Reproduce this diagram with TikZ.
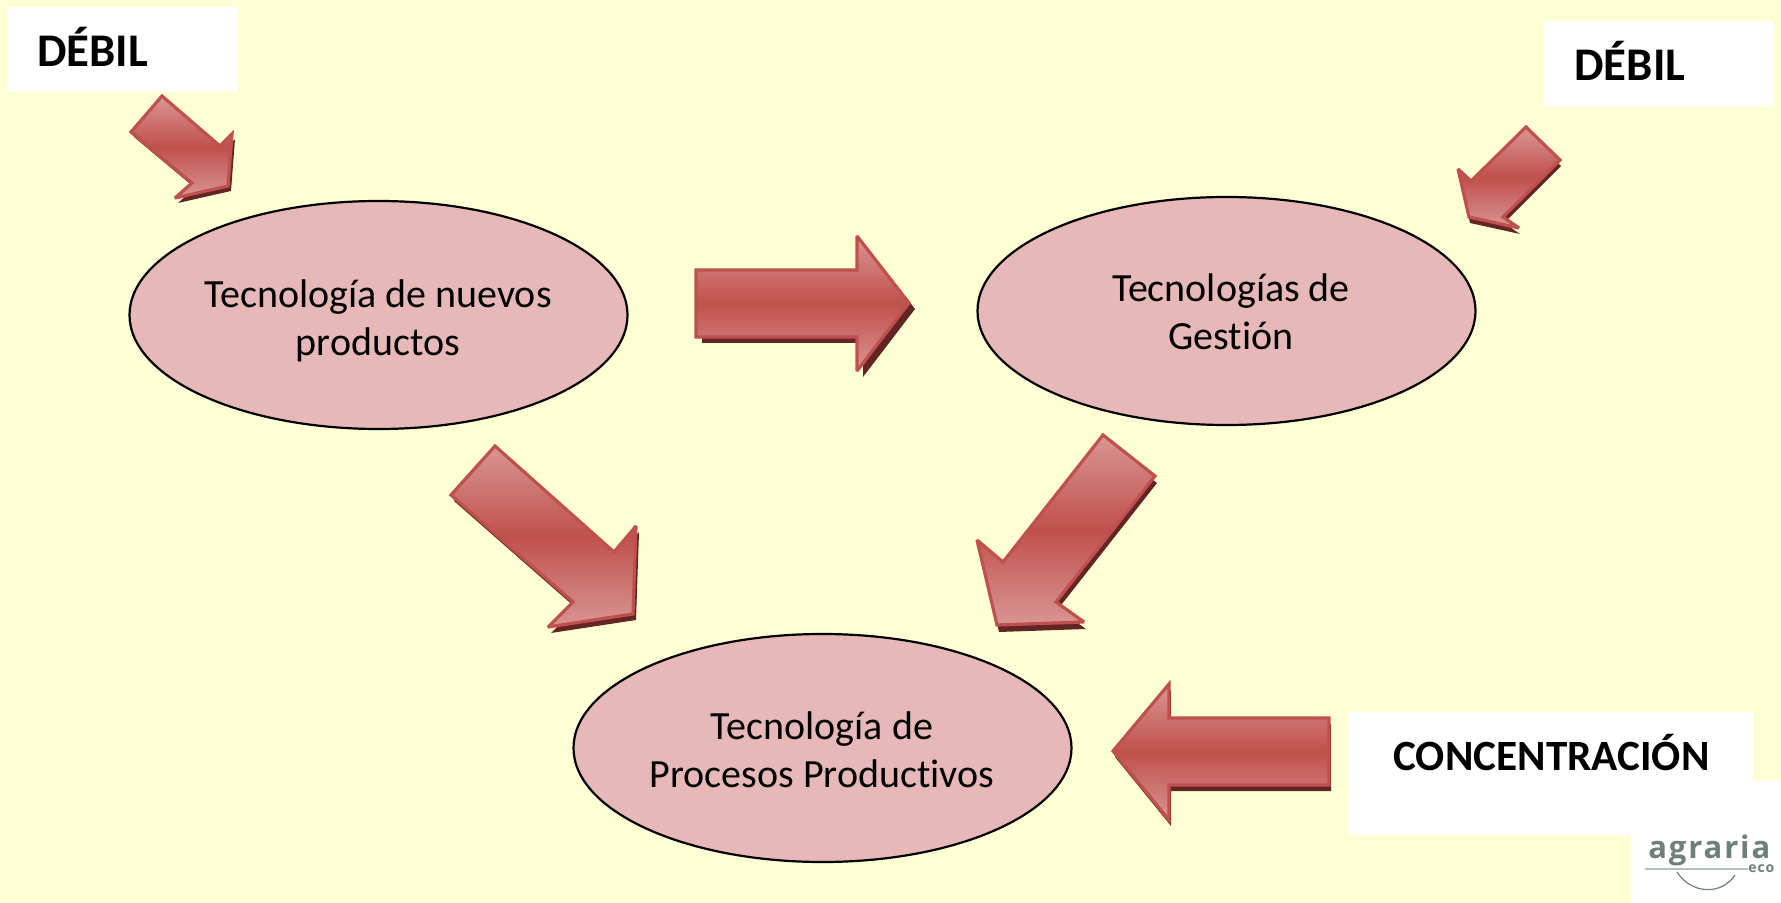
\documentclass[tikz,border=0pt]{standalone}
\usepackage{fontspec}
\setmainfont[RawFeature=-liga]{Carlito}
\newfontfamily\logofont[LetterSpace=6]{Open Sans}
\usepackage{xcolor}
\usetikzlibrary{positioning,shapes.geometric}
\definecolor{fondo}{HTML}{FFFFD5}
\definecolor{rosado}{HTML}{E6B8B7}
\definecolor{rojo}{HTML}{C0504D}
\definecolor{rojoclaro}{HTML}{D99694}
\definecolor{sombra}{HTML}{632523}
\definecolor{gris}{HTML}{6F7F7C}
\tikzset{
    tema/.style={
        draw=black,
        ellipse,
        fill=rosado,
        line width=1.1pt,
        minimum width=249pt,
        minimum height=114pt,
        inner sep=0pt
    },
    texto/.style={
        font=\fontsize{20}{24}\selectfont,
        align=center,
        inner sep=0pt
    },
    rotulo/.style={
        font=\fontsize{23.4}{24}\selectfont\bfseries,
        anchor=base west,
        inner sep=0pt
    },
    blanco/.style={
        fill=white,
        anchor=north west,
        inner sep=0pt
    },
    flecha/.style={
        draw=rojo,
        line width=1.6pt,
        miter limit=3,
        top color=rojoclaro,
        bottom color=rojoclaro,
        middle color=rojo
    },
    sombreado/.style={
        fill=sombra
    }
}
\newcommand{\flechota}[2]{%
    \fill[sombreado, shift={(#1)}] #2 -- cycle;
    \shadedraw[flecha] #2 -- cycle;
}

\begin{document}
\begin{tikzpicture}[x=0.5pt, y=-0.5pt]
    \fill[fondo] (0,0) rectangle (1781,903);
    \useasboundingbox (0,0) rectangle (1781,903);

    % Cajas blancas
    \node[blanco, minimum width=114.5pt, minimum height=42.5pt] (cajaA) at (8,7) {};
    \node[blanco, minimum width=114.5pt, minimum height=42.5pt] (cajaB) at (1544,21) {};
    \node[blanco, minimum width=202pt, minimum height=61.5pt] (cajaC) at (1349,712) {};
    \node[blanco, minimum width=75pt, minimum height=61.5pt] (cajaLogo) at (1631,780) {};

    % Flechas
    \flechota{3,5}{(162,96) -- (131,132) -- (192,183) -- (175,198) -- (228,186) -- (232,134) -- (220,146)}
    \flechota{1,6}{(1526,127) -- (1560,160) -- (1503,217) -- (1519,228) -- (1469,217) -- (1458,169) -- (1471,181)}
    \flechota{6,6}{(696,270) -- (857,270) -- (857,236) -- (909,303) -- (857,371) -- (857,337) -- (696,337)}
    \flechota{3,6}{(495,446) -- (451,495) -- (573,602) -- (548,627) -- (633,614) -- (636,526) -- (614,552)}
    \flechota{2,7}{(1103,435) -- (1155,476) -- (1056,602) -- (1084,622) -- (997,625) -- (977,540) -- (1003,562)}
    \flechota{2,6}{(1113,751) -- (1169,684) -- (1169,718) -- (1329,718) -- (1329,785) -- (1169,785) -- (1169,820)}

    % Elipses
    \node[tema] (nuevos) at (378.5,315) {};
    \node[tema] (gestion) at (1226.5,311) {};
    \node[tema] (procesos) at (822.5,748) {};

    % Textos
    \node[texto] (txtNuevos) at (378,320.5) {Tecnología de nuevos\\productos};
    \node[texto] (txtGestion) at (1231,312) {Tecnologías de\\Gestión};
    \node[texto] (txtProcesos) at (822,749.5) {Tecnología de\\Procesos Productivos};
    \node[rotulo] (debilA) at (37,67) {DÉBIL};
    \node[rotulo] (debilB) at (1574,81) {DÉBIL};
    \node[rotulo, font=\fontsize{21.6}{24}\selectfont\bfseries] (concentracion) at (1393,770.5) {CONCENTRACIÓN};

    % Logo
    \node[font=\logofont\bfseries\fontsize{15.5}{16}\selectfont, text=gris, anchor=base west, inner sep=0pt] (agraria) at (1648,858) {agraria};
    \node[font=\logofont\bfseries\fontsize{7}{8}\selectfont, text=gris, anchor=west, inner sep=0pt] (eco) at (1748,869) {eco};
    \draw[gris!50, line width=0.6pt] (1645,869) -- (eco.west);
    \draw[gris, line width=0.6pt] (1677,872) .. controls (1692,895) and (1722,895) .. (1735,875);
\end{tikzpicture}
\end{document}
